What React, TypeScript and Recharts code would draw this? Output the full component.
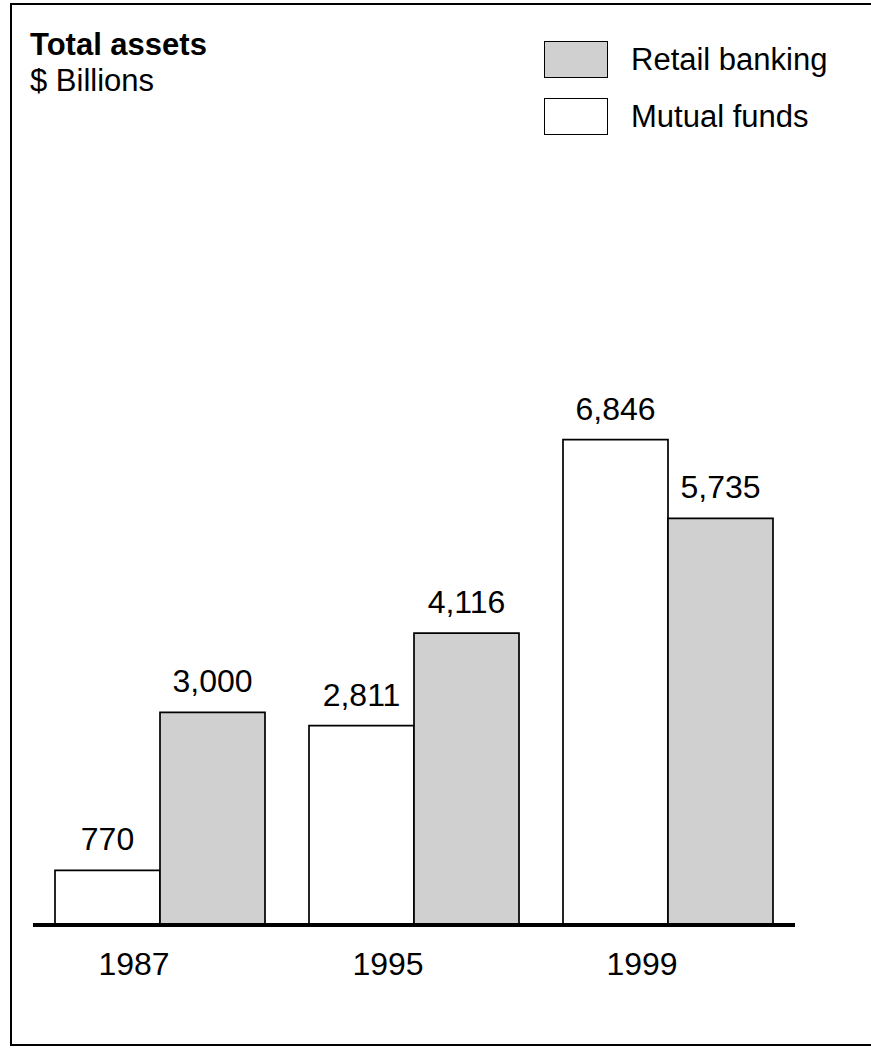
import { BarChart, Bar, XAxis, YAxis, LabelList } from "recharts";

const years = ["1987", "1995", "1999"];
const mutualFunds = [770, 2811, 6846];
const retailBanking = [3000, 4116, 5735];

const data = years.map((year, i) => ({
  year,
  mutual: mutualFunds[i],
  retail: retailBanking[i]
}));

const FONT = "'Liberation Sans', Arial, Helvetica, sans-serif";

const fmt = (v: any) => Number(v).toLocaleString("en-US");

// year labels sit a little left of the bar pairs in the original
const YearTick = ({ x, y, payload }: any) => (
  <text x={x - 26} y={y} dy={42} textAnchor="middle" fontSize={32} fontFamily={FONT} fill="#000">
    {payload.value}
  </text>
);

const legendItems = [
  { label: "Retail banking", fill: "#d0d0d0" },
  { label: "Mutual funds", fill: "#ffffff" }
];

const LegendBox = () => (
  <div style={{ position: "absolute", left: 544, top: 41, fontSize: 31, color: "#000" }}>
    {legendItems.map((it) => (
      <div key={it.label} style={{ display: "flex", height: 57 }}>
        <div
          style={{
            width: 64,
            height: 37,
            boxSizing: "border-box",
            background: it.fill,
            border: "1.5px solid #000",
            marginRight: 23
          }}
        />
        <span style={{ lineHeight: "38px" }}>{it.label}</span>
      </div>
    ))}
  </div>
);

export default function App() {
  return (
    <div
      style={{
        position: "absolute",
        left: 0,
        top: 0,
        width: 871,
        height: 1048,
        overflow: "hidden",
        background: "#fff",
        fontFamily: FONT
      }}
    >
      <div
        style={{
          position: "absolute",
          left: 10,
          top: 3,
          width: 880,
          height: 1039,
          border: "2.5px solid #000"
        }}
      />
      <div style={{ position: "absolute", left: 30, top: 27, color: "#000", lineHeight: "36px" }}>
        <div style={{ fontSize: 31, fontWeight: "bold" }}>Total assets</div>
        <div style={{ fontSize: 31 }}>$ Billions</div>
      </div>
      <LegendBox />
      <div style={{ position: "absolute", left: 0, top: 0 }}>
        <BarChart
          width={871}
          height={1048}
          data={data}
          margin={{ top: 216, right: 76, left: 33, bottom: 63 }}
          barCategoryGap={22}
          barGap={0}
        >
          <XAxis
            dataKey="year"
            height={60}
            tickLine={false}
            axisLine={{ stroke: "#000", strokeWidth: 4 }}
            tick={<YearTick />}
          />
          <YAxis hide domain={[0, 10000]} />
          <Bar dataKey="mutual" fill="#ffffff" stroke="#000" strokeWidth={1.7} isAnimationActive={false}>
            <LabelList
              dataKey="mutual"
              position="top"
              offset={20}
              formatter={fmt}
              style={{ fontSize: 32, fontFamily: FONT, fill: "#000" }}
            />
          </Bar>
          <Bar dataKey="retail" fill="#d0d0d0" stroke="#000" strokeWidth={1.7} isAnimationActive={false}>
            <LabelList
              dataKey="retail"
              position="top"
              offset={20}
              formatter={fmt}
              style={{ fontSize: 32, fontFamily: FONT, fill: "#000" }}
            />
          </Bar>
        </BarChart>
      </div>
    </div>
  );
}
